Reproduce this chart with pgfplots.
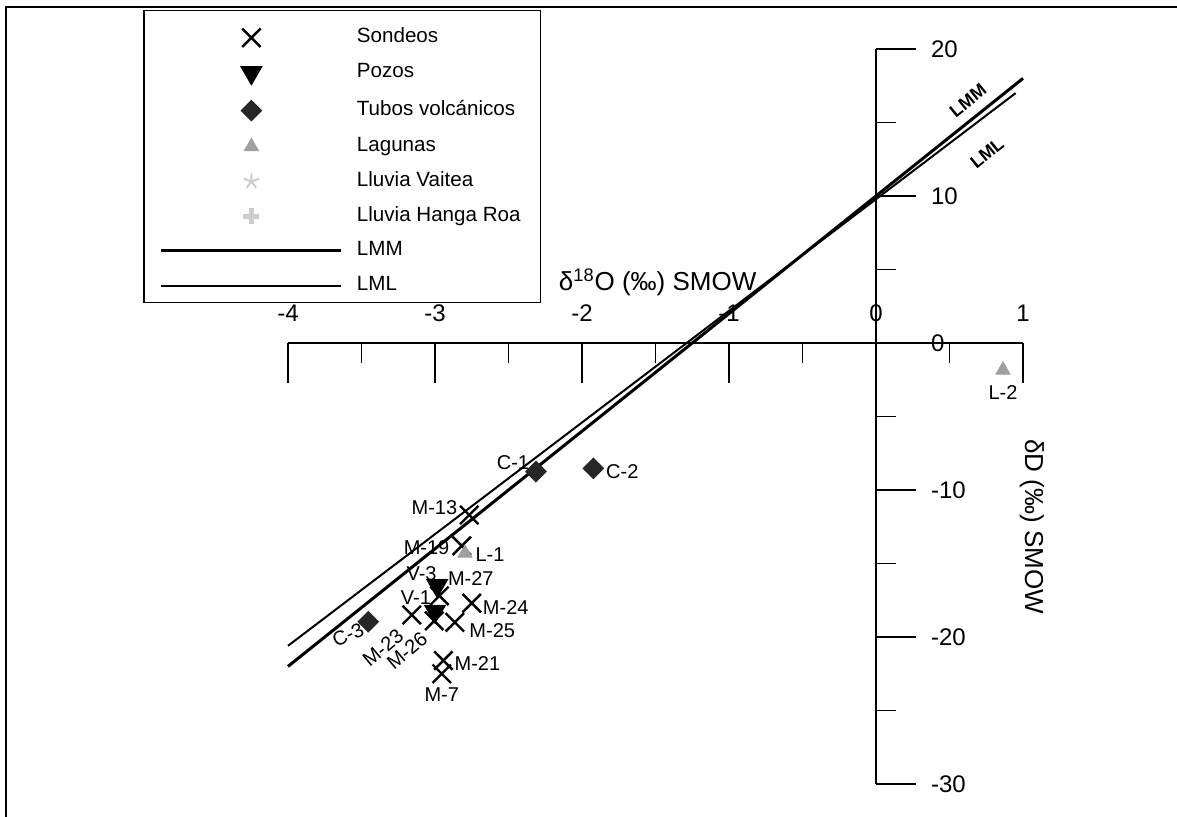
\documentclass[border=0pt]{standalone}
\usepackage{pgfplots}
\pgfplotsset{compat=1.18}
\usepackage{fontspec}
\setmainfont{Liberation Sans}
\begin{document}
\begin{tikzpicture}
\begin{axis}[
  at={(0pt,0pt)}, anchor=south west,
  scale only axis, width=367.5pt, height=367.5pt,
  xmin=-4, xmax=1, ymin=-30, ymax=20,
  axis lines=middle,
  axis line style={-, line width=0.9pt, black},
  xtick={-4,-3,-2,-1,0,1},
  ytick={-30,-20,-10,0,10,20},
  minor x tick num=1, minor y tick num=1,
  xtick align=outside, ytick align=inside,
  major tick length=20pt, minor tick length=10pt,
  tick style={black, line width=0.7pt},
  hide obscured x ticks=false, hide obscured y ticks=false,
  /pgf/number format/assume math mode=true,
  ticklabel style={font=\fontsize{12}{14}\selectfont},
  xticklabel style={anchor=south, yshift=27pt},
  yticklabel style={anchor=west, xshift=24pt},
  clip=false,
  xlabel={δ\textsuperscript{18}O (‰) SMOW},
  ylabel={δD (‰) SMOW},
  every axis x label/.style={at={(axis description cs:0.359,0.683)}, anchor=west, font=\fontsize{13}{16}\selectfont},
  every axis y label/.style={at={(axis description cs:1.012,0.35)}, anchor=center, rotate=-90, font=\fontsize{13}{16}\selectfont},
  legend cell align=left,
  legend style={
    at={(axis description cs:-0.197,1.053)}, anchor=north west,
    draw=black, line width=0.7pt,
    font=\fontsize{10.3}{12}\selectfont,
    inner xsep=8pt, inner ysep=4pt,
    row sep=3.4pt, column sep=5pt,
    nodes={inner sep=2pt, text height=10pt, text depth=0pt},
  },
  legend image code/.code={\draw[yshift=-2.5pt,mark repeat=2,mark phase=2,#1] plot coordinates {(0pt,0pt) (45pt,0pt) (90pt,0pt)};},
]
% Sondeos
\addplot[only marks, mark=x, mark size=6.5pt, line width=1.2pt, black] coordinates {
(-2.767,-11.7) (-2.818,-13.8) (-2.97,-17.2) (-2.75,-17.7) (-3.158,-18.5)
(-3.005,-18.9) (-2.865,-19.0) (-2.943,-21.6) (-2.954,-22.5)};
\addlegendentry{Sondeos}
% Pozos
\addplot[only marks, mark=triangle*, mark size=6pt, mark options={rotate=180, fill=black}, black, line width=0.5pt] coordinates {
(-2.985,-16.5) (-3.0,-18.25)};
\addlegendentry{Pozos}
% Tubos volcanicos
\addplot[only marks, mark=square*, mark size=3.6pt, mark options={rotate=45, fill=black!85}, draw=black!85, line width=0.5pt] coordinates {
(-2.313,-8.75) (-1.923,-8.53) (-3.454,-18.96)};
\addlegendentry{Tubos volcánicos}
% Lagunas
\addplot[only marks, mark=triangle*, mark size=4pt, mark options={fill=gray!75, draw=gray!75}, line width=0.5pt] coordinates {
(-2.796,-14.3) (0.864,-1.84)};
\addlegendentry{Lagunas}
\addlegendimage{only marks, mark=star, mark size=4pt, gray!40, line width=1pt}
\addlegendentry{Lluvia Vaitea}
\addlegendimage{only marks, mark=+, mark size=4pt, gray!40, line width=2.5pt}
\addlegendentry{Lluvia Hanga Roa}
% LMM
\addplot[black, line width=1.5pt, mark=none] coordinates {(-4,-22) (1,18)};
\addlegendentry{LMM}
% LML
\addplot[black, line width=1pt, mark=none] coordinates {(-4,-20.6) (0.95,17.0)};
\addlegendentry{LML}

\tikzset{lab/.style={font=\fontsize{10}{12}\selectfont, inner sep=0pt}}
\node[lab, xshift=-11.5pt, yshift=4.5pt] at (axis cs:-2.313,-8.75) {C-1};
\node[lab, xshift=14.5pt, yshift=-1.6pt] at (axis cs:-1.923,-8.53) {C-2};
\node[lab, rotate=25] at (axis cs:-3.592,-19.86) {C-3};
\node[lab, xshift=-17.4pt, yshift=3.7pt] at (axis cs:-2.767,-11.7) {M-13};
\node[lab, xshift=-17.6pt, yshift=-1pt] at (axis cs:-2.818,-13.8) {M-19};
\node[lab, xshift=12.5pt, yshift=-0.8pt] at (axis cs:-2.796,-14.3) {L-1};
\node[lab, xshift=-7.8pt, yshift=6pt] at (axis cs:-2.985,-16.5) {V-3};
\node[lab, xshift=15.7pt, yshift=8.5pt] at (axis cs:-2.97,-17.2) {M-27};
\node[lab, xshift=-9.5pt, yshift=6.7pt] at (axis cs:-3.0,-18.25) {V-1};
\node[lab, xshift=17pt, yshift=-2pt] at (axis cs:-2.75,-17.7) {M-24};
\node[lab, xshift=18.7pt, yshift=-4pt] at (axis cs:-2.865,-19.0) {M-25};
\node[lab, rotate=40] at (axis cs:-3.354,-20.75) {M-23};
\node[lab, rotate=40] at (axis cs:-3.19,-20.95) {M-26};
\node[lab, xshift=17pt, yshift=-1.7pt] at (axis cs:-2.943,-21.6) {M-21};
\node[lab, yshift=-10.5pt] at (axis cs:-2.954,-22.5) {M-7};
\node[lab, yshift=-11pt] at (axis cs:0.864,-1.84) {L-2};
\node[lab, font=\fontsize{9}{11}\selectfont\bfseries, rotate=39] at (axis cs:0.626,16.5) {LMM};
\node[lab, font=\fontsize{9}{11}\selectfont\bfseries, rotate=39] at (axis cs:0.755,12.9) {LML};
\end{axis}
\draw[line width=1pt] (-141pt,-16.5pt) -- (-141pt,388.5pt) -- (444.5pt,388.5pt);
\pgfresetboundingbox
\useasboundingbox (-144pt,-16.5pt) rectangle (444.5pt,392pt);
\end{tikzpicture}
\end{document}
